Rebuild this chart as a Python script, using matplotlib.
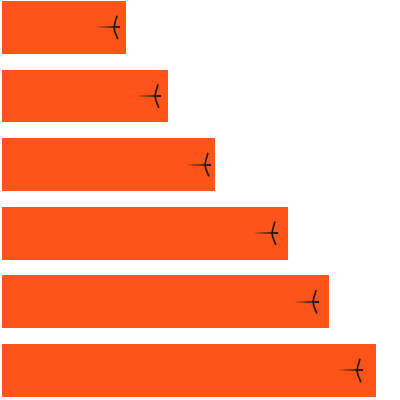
import numpy as np
import matplotlib.pyplot as plt

# bar lengths and arrow-mark positions (data units)
categories = ['A', 'B', 'C', 'D', 'E', 'F']
values = [31.0, 41.5, 53.25, 71.5, 81.75, 93.5]
marks = [28.0, 38.25, 50.75, 67.5, 77.75, 88.75]

bar_color = '#FF5419'
mark_color = '#1a1a1a'

fig = plt.figure(figsize=(4, 4), dpi=100)
ax = fig.add_axes([0, 0, 1, 1])

y = np.arange(len(categories))
ax.barh(y, values, height=0.77, left=0, color=bar_color)

# arrow-like marks: fading shaft plus a narrow, slightly bent "<" head
for yi, m in zip(y, marks):
    xs = np.linspace(m - 4.5, m + 1.4, 14)
    for k in range(len(xs) - 1):
        ax.plot(xs[k:k + 2], [yi, yi], color=mark_color,
                alpha=0.1 + 0.9 * k / (len(xs) - 2), lw=1.4,
                solid_capstyle='butt')
    ax.plot([m + 0.7, m + 0.2, m, m + 0.2, m + 0.9],
            [yi - 0.16, yi - 0.06, yi, yi + 0.06, yi + 0.16],
            color=mark_color, lw=1.2)

ax.set_xlim(-0.5, 99.5)
ax.set_ylim(5.43, -0.40)
ax.axis('off')

fig.savefig('out.png', dpi=100)
